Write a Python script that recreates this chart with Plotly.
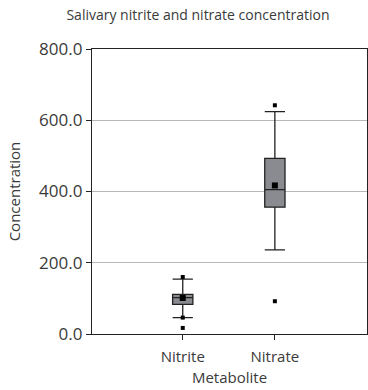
import plotly.graph_objects as go

# Summary statistics per metabolite
metabolites = ["Nitrite", "Nitrate"]
lower_whisker = [46, 236]
q1 = [83, 356]
median = [102, 405]
q3 = [111, 493]
upper_whisker = [154, 624]
means = [101, 417]

# Individual outlying observations
outlier_x = ["Nitrite", "Nitrite", "Nitrite", "Nitrate", "Nitrate"]
outlier_y = [160, 46, 17, 642, 92]

y_ticks = [0, 200, 400, 600, 800]

ink = "#3a3a3a"
font_family = "'Open Sans', Lato, sans-serif"

fig = go.Figure()

for i, m in enumerate(metabolites):
    fig.add_trace(go.Box(
        x=[m],
        q1=[q1[i]],
        median=[median[i]],
        q3=[q3[i]],
        lowerfence=[lower_whisker[i]],
        upperfence=[upper_whisker[i]],
        boxpoints=False,
        width=0.22,
        whiskerwidth=1,
        fillcolor="#898b91",
        line=dict(color="#222222", width=1.3),
        showlegend=False,
        hoverinfo="skip",
    ))

fig.add_trace(go.Scatter(
    x=metabolites, y=means, mode="markers",
    marker=dict(symbol="square", size=6, color="#000000"),
    showlegend=False,
))

fig.add_trace(go.Scatter(
    x=outlier_x, y=outlier_y, mode="markers",
    marker=dict(symbol="square", size=4, color="#000000"),
    showlegend=False,
))

fig.update_layout(
    width=368,
    height=390,
    margin=dict(l=92, r=1, t=49, b=56),
    paper_bgcolor="white",
    plot_bgcolor="white",
    font=dict(family=font_family, color=ink, size=14),
    title=dict(
        text="Salivary nitrite and nitrate concentration",
        x=0.538, xanchor="center", xref="container",
        y=1 - 15 / 390, yanchor="middle", yref="container",
        font=dict(size=14, color=ink),
    ),
    xaxis=dict(
        type="category",
        categoryorder="array",
        categoryarray=metabolites,
        range=[-0.985, 2.0],
        showline=True, linecolor="#222222", linewidth=1.3,
        mirror=True,
        ticks="outside", ticklen=5, tickcolor="#222222",
        ticklabelstandoff=4,
        showgrid=False,
        tickfont=dict(size=15),
        title=dict(text="Metabolite", font=dict(size=15), standoff=7),
    ),
    yaxis=dict(
        range=[0, 800],
        tickvals=y_ticks,
        ticktext=[f"{v:.1f}" for v in y_ticks],
        showline=True, linecolor="#222222", linewidth=1.3,
        mirror=True,
        ticks="outside", ticklen=5, tickcolor="#222222",
        showgrid=True, gridcolor="#b8b8b8", gridwidth=1,
        zeroline=False,
        tickfont=dict(size=17),
        title=dict(text="Concentration", font=dict(size=15), standoff=14),
    ),
)

fig.write_html("out.html")
